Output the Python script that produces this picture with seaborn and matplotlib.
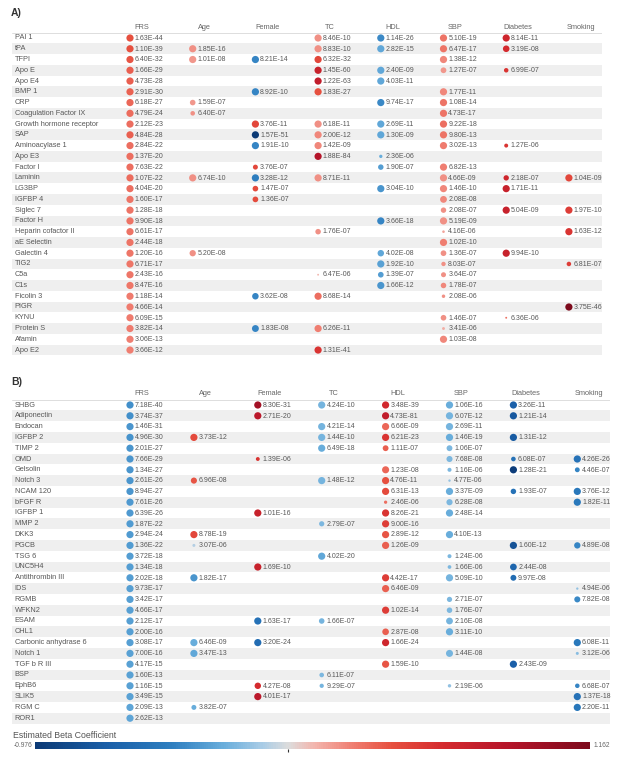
import numpy as np
import pandas as pd
import matplotlib
import matplotlib.pyplot as plt
import seaborn as sns
from matplotlib.colors import LinearSegmentedColormap, Normalize
from matplotlib.cm import ScalarMappable

sns.set_theme(style="white")
plt.rcParams["font.family"] = ["Liberation Sans", "DejaVu Sans"]

# ------------------------------------------------------------------
# Data: p-value label and estimated beta per protein / risk factor
# ------------------------------------------------------------------
COLUMNS = ["FRS", "Age", "Female", "TC", "HDL", "SBP", "Diabetes", "Smoking"]
BETA_MIN, BETA_MAX = -0.976, 1.162

A_ROWS = ["PAI 1", "tPA", "TFPI", "Apo E", "Apo E4", "BMP 1", "CRP", "Coagulation Factor IX",
          "Growth hormone receptor", "SAP", "Aminoacylase 1", "Apo E3", "Factor I", "Laminin",
          "LG3BP", "IGFBP 4", "Siglec 7", "Factor H", "Heparin cofactor II", "aE Selectin",
          "Galectin 4", "TIG2", "C5a", "C1s", "Ficolin 3", "PIGR", "KYNU", "Protein S",
          "Afamin", "Apo E2"]

A_FRS = {"PAI 1": ("1.63E-44", 0.40), "tPA": ("1.10E-39", 0.40), "TFPI": ("6.40E-32", 0.38),
         "Apo E": ("1.66E-29", 0.35), "Apo E4": ("4.73E-28", 0.35), "BMP 1": ("2.91E-30", 0.34),
         "CRP": ("6.18E-27", 0.32), "Coagulation Factor IX": ("4.79E-24", 0.31),
         "Growth hormone receptor": ("2.12E-23", 0.30), "SAP": ("4.84E-28", 0.35),
         "Aminoacylase 1": ("2.84E-22", 0.30), "Apo E3": ("1.37E-20", 0.30),
         "Factor I": ("7.63E-22", 0.30), "Laminin": ("1.07E-22", 0.31), "LG3BP": ("4.04E-20", 0.30),
         "IGFBP 4": ("1.60E-17", 0.28), "Siglec 7": ("1.28E-18", 0.28), "Factor H": ("9.90E-18", 0.28),
         "Heparin cofactor II": ("6.61E-17", 0.28), "aE Selectin": ("2.44E-18", 0.28),
         "Galectin 4": ("1.20E-16", 0.27), "TIG2": ("6.71E-17", 0.27), "C5a": ("2.43E-16", 0.27),
         "C1s": ("8.47E-16", 0.27), "Ficolin 3": ("1.18E-14", 0.26), "PIGR": ("4.66E-14", 0.26),
         "KYNU": ("6.09E-15", 0.26), "Protein S": ("3.82E-14", 0.26), "Afamin": ("3.06E-13", 0.25),
         "Apo E2": ("3.66E-12", 0.25)}
A_AGE = {"tPA": ("1.85E-16", 0.20), "TFPI": ("1.01E-08", 0.18), "CRP": ("1.59E-07", 0.18),
         "Coagulation Factor IX": ("6.40E-07", 0.20), "Laminin": ("6.74E-10", 0.20),
         "Galectin 4": ("5.20E-08", 0.20)}
A_FEMALE = {"TFPI": ("8.21E-14", -0.42), "BMP 1": ("8.92E-10", -0.42),
            "Growth hormone receptor": ("3.76E-11", 0.45), "SAP": ("1.57E-51", -0.976),
            "Aminoacylase 1": ("1.91E-10", -0.42), "Factor I": ("3.76E-07", 0.45),
            "Laminin": ("3.28E-12", -0.45), "LG3BP": ("1.47E-07", 0.42), "IGFBP 4": ("1.36E-07", 0.42),
            "Ficolin 3": ("3.62E-08", -0.42), "Protein S": ("1.83E-08", -0.42)}
A_TC = {"PAI 1": ("8.46E-10", 0.20), "tPA": ("8.83E-10", 0.20), "TFPI": ("6.32E-32", 0.45),
        "Apo E": ("1.45E-60", 0.70), "Apo E4": ("1.22E-63", 0.75), "BMP 1": ("1.83E-27", 0.40),
        "Growth hormone receptor": ("6.18E-11", 0.20), "SAP": ("2.00E-12", 0.22),
        "Aminoacylase 1": ("1.42E-09", 0.22), "Apo E3": ("1.88E-84", 0.85), "Laminin": ("8.71E-11", 0.20),
        "Heparin cofactor II": ("1.76E-07", 0.20), "C5a": ("6.47E-06", 0.10),
        "Ficolin 3": ("8.68E-14", 0.30), "Protein S": ("6.26E-11", 0.25), "Apo E2": ("1.31E-41", 0.55)}
A_HDL = {"PAI 1": ("1.14E-26", -0.40), "tPA": ("2.82E-15", -0.28), "Apo E": ("2.40E-09", -0.28),
         "Apo E4": ("4.03E-11", -0.28), "CRP": ("9.74E-17", -0.40),
         "Growth hormone receptor": ("2.69E-11", -0.28), "SAP": ("1.30E-09", -0.28),
         "Apo E3": ("2.36E-06", -0.25), "Factor I": ("1.90E-07", -0.32), "LG3BP": ("3.04E-10", -0.35),
         "Factor H": ("3.66E-18", -0.42), "Galectin 4": ("4.02E-08", -0.28), "TIG2": ("1.92E-10", -0.30),
         "C5a": ("1.39E-07", -0.32), "C1s": ("1.66E-12", -0.35)}
A_SBP = {"PAI 1": ("5.10E-19", 0.28), "tPA": ("6.47E-17", 0.28), "TFPI": ("1.38E-12", 0.22),
         "Apo E": ("1.27E-07", 0.18), "BMP 1": ("1.77E-11", 0.22), "CRP": ("1.08E-14", 0.28),
         "Coagulation Factor IX": ("4.73E-17", 0.28), "Growth hormone receptor": ("9.22E-18", 0.30),
         "SAP": ("9.80E-13", 0.28), "Aminoacylase 1": ("3.02E-13", 0.26), "Factor I": ("6.82E-13", 0.25),
         "Laminin": ("4.66E-09", 0.20), "LG3BP": ("1.46E-10", 0.22), "IGFBP 4": ("2.08E-08", 0.22),
         "Siglec 7": ("2.08E-07", 0.20), "Factor H": ("5.19E-09", 0.20),
         "Heparin cofactor II": ("4.16E-06", 0.15), "aE Selectin": ("1.02E-10", 0.25),
         "Galectin 4": ("1.36E-07", 0.20), "TIG2": ("8.03E-07", 0.20), "C5a": ("3.64E-07", 0.20),
         "C1s": ("1.78E-07", 0.22), "Ficolin 3": ("2.08E-06", 0.20), "KYNU": ("1.46E-07", 0.20),
         "Protein S": ("3.41E-06", 0.12), "Afamin": ("1.03E-08", 0.22)}
A_DIABETES = {"PAI 1": ("8.14E-11", 0.65), "tPA": ("3.19E-08", 0.60), "Apo E": ("6.99E-07", 0.55),
              "Aminoacylase 1": ("1.27E-06", 0.55), "Laminin": ("2.18E-07", 0.65),
              "LG3BP": ("1.71E-11", 0.70), "Siglec 7": ("5.04E-09", 0.70), "Galectin 4": ("9.94E-10", 0.70),
              "KYNU": ("6.36E-06", 0.30)}
A_SMOKING = {"Laminin": ("1.04E-09", 0.45), "Siglec 7": ("1.97E-10", 0.50),
             "Heparin cofactor II": ("1.63E-12", 0.55), "TIG2": ("6.81E-07", 0.50),
             "PIGR": ("3.75E-46", 1.162)}

B_ROWS = ["SHBG", "Adiponectin", "Endocan", "IGFBP 2", "TIMP 2", "OMD", "Gelsolin", "Notch 3",
          "NCAM 120", "bFGF R", "IGFBP 1", "MMP 2", "DKK3", "PGCB", "TSG 6", "UNC5H4",
          "Antithrombin III", "IDS", "RGMB", "WFKN2", "ESAM", "CHL1", "Carbonic anhydrase 6",
          "Notch 1", "TGF b R III", "BSP", "EphB6", "SLIK5", "RGM C", "ROR1"]

B_FRS = {"SHBG": ("7.18E-40", -0.38), "Adiponectin": ("3.74E-37", -0.38), "Endocan": ("1.46E-31", -0.35),
         "IGFBP 2": ("4.96E-30", -0.36), "TIMP 2": ("2.01E-27", -0.35), "OMD": ("7.66E-29", -0.35),
         "Gelsolin": ("1.34E-27", -0.35), "Notch 3": ("2.61E-26", -0.35), "NCAM 120": ("8.94E-27", -0.35),
         "bFGF R": ("7.61E-26", -0.34), "IGFBP 1": ("6.39E-26", -0.34), "MMP 2": ("1.87E-22", -0.33),
         "DKK3": ("2.94E-24", -0.33), "PGCB": ("1.36E-22", -0.33), "TSG 6": ("3.72E-18", -0.32),
         "UNC5H4": ("1.34E-18", -0.32), "Antithrombin III": ("2.02E-18", -0.32), "IDS": ("9.73E-17", -0.31),
         "RGMB": ("3.42E-17", -0.31), "WFKN2": ("4.66E-17", -0.31), "ESAM": ("2.12E-17", -0.31),
         "CHL1": ("2.00E-16", -0.31), "Carbonic anhydrase 6": ("3.08E-17", -0.31),
         "Notch 1": ("7.00E-16", -0.30), "TGF b R III": ("4.17E-15", -0.30), "BSP": ("1.60E-13", -0.30),
         "EphB6": ("1.16E-15", -0.30), "SLIK5": ("3.49E-15", -0.30), "RGM C": ("2.09E-13", -0.29),
         "ROR1": ("2.62E-13", -0.29)}
B_AGE = {"IGFBP 2": ("3.73E-12", 0.42), "Notch 3": ("6.96E-08", 0.38), "DKK3": ("8.78E-19", 0.45),
         "PGCB": ("3.07E-06", -0.08), "Antithrombin III": ("1.82E-17", -0.35),
         "Carbonic anhydrase 6": ("6.46E-09", -0.25), "Notch 1": ("3.47E-13", -0.28),
         "RGM C": ("3.82E-07", -0.25)}
B_FEMALE = {"SHBG": ("8.30E-31", 0.95), "Adiponectin": ("2.71E-20", 0.80), "OMD": ("1.39E-06", 0.55),
            "IGFBP 1": ("1.01E-16", 0.70), "UNC5H4": ("1.69E-10", 0.70), "ESAM": ("1.63E-17", -0.55),
            "Carbonic anhydrase 6": ("3.20E-24", -0.60), "EphB6": ("4.27E-08", 0.60),
            "SLIK5": ("4.01E-17", 0.80)}
B_TC = {"SHBG": ("4.24E-10", -0.22), "Endocan": ("4.21E-14", -0.22), "IGFBP 2": ("1.44E-10", -0.22),
        "TIMP 2": ("6.49E-18", -0.25), "Notch 3": ("1.48E-12", -0.22), "MMP 2": ("2.79E-07", -0.20),
        "TSG 6": ("4.02E-20", -0.28), "ESAM": ("1.66E-07", -0.22), "BSP": ("6.11E-07", -0.20),
        "EphB6": ("9.29E-07", -0.22)}
B_HDL = {"SHBG": ("3.48E-39", 0.62), "Adiponectin": ("4.73E-81", 0.75), "Endocan": ("6.66E-09", 0.32),
         "IGFBP 2": ("6.21E-23", 0.55), "TIMP 2": ("1.11E-07", 0.35), "Gelsolin": ("1.23E-08", 0.32),
         "Notch 3": ("4.76E-11", 0.40), "NCAM 120": ("6.31E-13", 0.42), "bFGF R": ("2.46E-06", 0.30),
         "IGFBP 1": ("8.26E-21", 0.55), "MMP 2": ("9.00E-16", 0.50), "DKK3": ("2.89E-12", 0.38),
         "PGCB": ("1.26E-09", 0.35), "Antithrombin III": ("4.42E-17", 0.50), "IDS": ("6.46E-09", 0.35),
         "WFKN2": ("1.02E-14", 0.50), "CHL1": ("2.87E-08", 0.35),
         "Carbonic anhydrase 6": ("1.66E-24", 0.65), "TGF b R III": ("1.59E-10", 0.38)}
B_SBP = {"SHBG": ("1.06E-16", -0.25), "Adiponectin": ("6.07E-12", -0.22), "Endocan": ("2.69E-11", -0.22),
         "IGFBP 2": ("1.46E-19", -0.25), "TIMP 2": ("1.06E-07", -0.20), "OMD": ("7.68E-08", -0.20),
         "Gelsolin": ("1.16E-06", -0.20), "Notch 3": ("4.77E-06", -0.15), "NCAM 120": ("3.37E-09", -0.25),
         "bFGF R": ("6.28E-08", -0.20), "IGFBP 1": ("2.48E-14", -0.25), "DKK3": ("4.10E-13", -0.25),
         "TSG 6": ("1.24E-06", -0.20), "UNC5H4": ("1.66E-06", -0.20),
         "Antithrombin III": ("5.09E-10", -0.22), "RGMB": ("2.71E-07", -0.20), "WFKN2": ("1.76E-07", -0.20),
         "ESAM": ("2.16E-08", -0.22), "CHL1": ("3.11E-10", -0.25), "Notch 1": ("1.44E-08", -0.22),
         "EphB6": ("2.19E-06", -0.15)}
B_DIABETES = {"SHBG": ("3.26E-11", -0.70), "Adiponectin": ("1.21E-14", -0.75), "IGFBP 2": ("1.31E-12", -0.72),
              "OMD": ("6.08E-07", -0.55), "Gelsolin": ("1.28E-21", -0.95), "NCAM 120": ("1.93E-07", -0.55),
              "PGCB": ("1.60E-12", -0.80), "UNC5H4": ("2.44E-08", -0.65),
              "Antithrombin III": ("9.97E-08", -0.60), "TGF b R III": ("2.43E-09", -0.70)}
B_SMOKING = {"OMD": ("4.26E-26", -0.55), "Gelsolin": ("4.46E-07", -0.42), "NCAM 120": ("3.76E-12", -0.50),
             "bFGF R": ("1.82E-11", -0.50), "PGCB": ("4.89E-08", -0.42), "IDS": ("4.94E-06", -0.15),
             "RGMB": ("7.82E-08", -0.40), "Carbonic anhydrase 6": ("6.08E-11", -0.50),
             "Notch 1": ("3.12E-06", -0.18), "EphB6": ("6.68E-07", -0.42), "SLIK5": ("1.37E-18", -0.55),
             "RGM C": ("2.20E-11", -0.50)}

# ------------------------------------------------------------------
# Colour scale (blue - grey - red)
# ------------------------------------------------------------------
nodes = [(-0.976, "#0c3a75"), (-0.7, "#1a5fa8"), (-0.45, "#2e7fc0"), (-0.25, "#69aedc"),
         (-0.1, "#a9cce6"), (0.0, "#dcdcdc"), (0.1, "#f3b5ad"), (0.25, "#ef7d70"),
         (0.4, "#e6503f"), (0.6, "#d42a2e"), (0.85, "#b5152a"), (1.162, "#7d0a1c")]
cmap = LinearSegmentedColormap.from_list(
    "beta", [((b - BETA_MIN) / (BETA_MAX - BETA_MIN), c) for b, c in nodes])
norm = Normalize(BETA_MIN, BETA_MAX)


def to_frame(rows, cols):
    recs = []
    for ci, d in enumerate(cols):
        for name, (p, beta) in d.items():
            recs.append({"x": ci, "y": rows.index(name), "label": p, "beta": beta,
                         "logp": -np.log10(float(p))})
    return pd.DataFrame(recs)


fig = plt.figure(figsize=(6.21, 7.62), dpi=100)


def px_axes(left, top, right, bottom):
    return fig.add_axes([left / 621, 1 - bottom / 762, (right - left) / 621, (bottom - top) / 762])


def draw_panel(rows, cols, dot_x0, step, row_y0, rstep, left, right, head_y):
    top = row_y0 - 1.6 * rstep
    bottom = row_y0 + 29.5 * rstep
    ax = px_axes(left, top, right, bottom)
    df = to_frame(rows, cols)
    for j in range(1, len(rows), 2):
        ax.axhspan(j - 0.5, j + 0.5, color="#efefef", lw=0, zorder=0)
    ax.axhline(-0.5, color="#d8d8d8", lw=0.6, zorder=1)
    ax.axhline(len(rows) - 0.5, color="#e4e4e4", lw=0.5, zorder=1)
    sns.scatterplot(data=df, x="x", y="y", hue="beta", palette=cmap, hue_norm=norm,
                    size="logp", sizes=(1, 27), size_norm=(5.1, 8.0),
                    linewidth=0, legend=False, ax=ax, zorder=3)
    for _, r in df.iterrows():
        ax.annotate(r["label"], (r["x"], r["y"]), xytext=(3.4, -0.2), textcoords="offset points",
                    ha="left", va="center", fontsize=5.0, color="#585858")
    x_left = (left - dot_x0) / step
    for j, name in enumerate(rows):
        ax.text(x_left + 0.04, j, name, ha="left", va="center", fontsize=5.3, color="#585858")
    for ci, c in enumerate(COLUMNS):
        ax.text(ci + 12 / step, head_y, c, ha="center", va="center", fontsize=5.3, color="#666666")
    ax.set_xlim(x_left, (right - dot_x0) / step)
    ax.set_ylim(29.5, -1.6)
    ax.axis("off")
    return ax


draw_panel(A_ROWS, [A_FRS, A_AGE, A_FEMALE, A_TC, A_HDL, A_SBP, A_DIABETES, A_SMOKING],
           dot_x0=130, step=62.7, row_y0=38, rstep=10.76, left=12, right=602, head_y=-0.95)
draw_panel(B_ROWS, [B_FRS, B_AGE, B_FEMALE, B_TC, B_HDL, B_SBP, B_DIABETES, B_SMOKING],
           dot_x0=130, step=63.9, row_y0=405, rstep=10.8, left=12, right=610, head_y=-1.02)

fig.text(11 / 621, 1 - 13 / 762, "A)", fontsize=7.5, fontweight="bold", color="#333333", va="center")
fig.text(11 / 621, 1 - 382 / 762, "B)", fontsize=7.5, fontweight="bold", color="#333333", va="center")

# Colour bar
cax = px_axes(35, 742, 590, 749)
cb = fig.colorbar(ScalarMappable(norm=norm, cmap=cmap), cax=cax, orientation="horizontal")
cb.outline.set_visible(False)
cb.set_ticks([0])
cb.ax.tick_params(length=2, width=0.8, labelbottom=False, color="#333333")
fig.text(13 / 621, 1 - 736 / 762, "Estimated Beta Coefficient", fontsize=6.3, color="#555555", va="center")
fig.text(32 / 621, 1 - 745.5 / 762, "-0.976", fontsize=4.8, color="#666666", va="center", ha="right")
fig.text(594 / 621, 1 - 745.5 / 762, "1.162", fontsize=4.8, color="#666666", va="center", ha="left")

fig.savefig("out.png", dpi=100)
